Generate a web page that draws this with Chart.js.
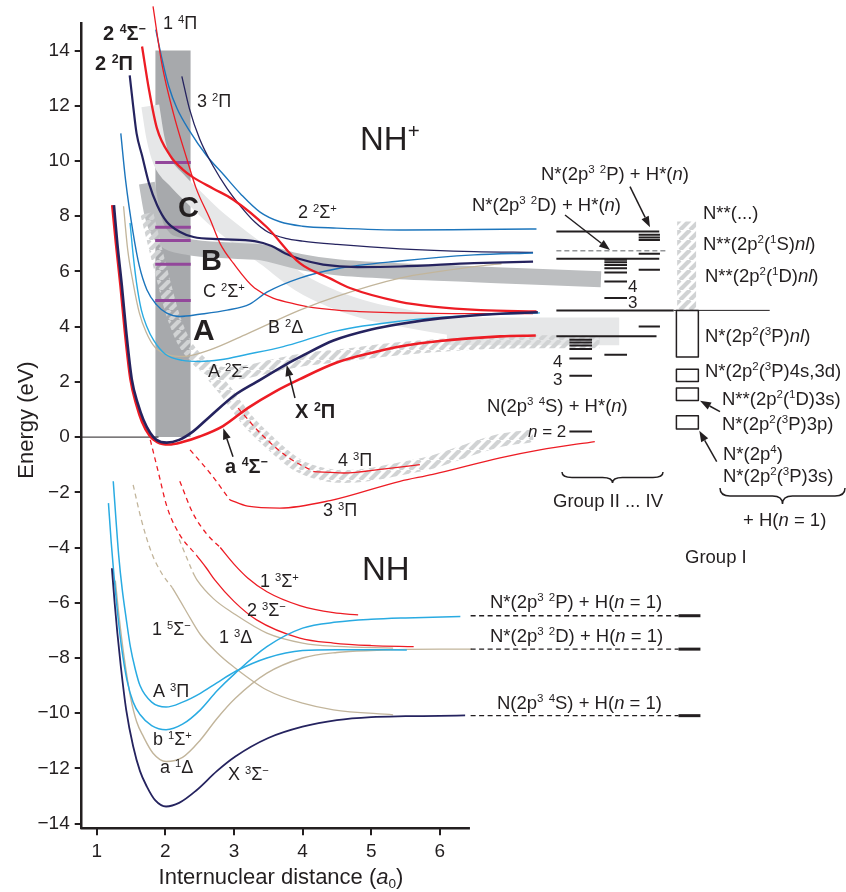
<!DOCTYPE html>
<html><head><meta charset="utf-8">
<script src="https://cdn.jsdelivr.net/npm/chart.js@4.4.1/dist/chart.umd.min.js"></script>
<style>html,body{margin:0;padding:0;background:#fff}canvas{display:block}</style>
</head><body>
<canvas id="c" width="846" height="892"></canvas>
<script>
// ---------------- DATA (energy in eV vs internuclear distance in a0) ----------------
const xTicks = [1, 2, 3, 4, 5, 6];
const yTicks = [-14, -12, -10, -8, -6, -4, -2, 0, 2, 4, 6, 8, 10, 12, 14];

// NH+ potential curves
const X2Pi   = [[1.25,8.4],[1.30,7.0],[1.365,5.5],[1.43,3.8],[1.51,2.1],[1.6,1.2],[1.68,0.63],[1.78,0.15],[1.87,-0.1],[2.02,-0.2],[2.2,-0.1],[2.4,0.2],[2.65,0.75],[3.0,1.5],[3.33,2.0],[3.75,2.62],[4.0,2.95],[4.45,3.5],[5.0,3.9],[5.42,4.1],[6.0,4.3],[6.88,4.47],[7.43,4.52]];
const a4SigM = [[1.225,8.4],[1.28,7.0],[1.345,5.5],[1.41,3.8],[1.49,2.1],[1.58,1.15],[1.66,0.55],[1.77,0.05],[1.88,-0.18],[2.05,-0.27],[2.25,-0.18],[2.5,0.02],[2.84,0.4],[3.2,1.05],[3.6,1.65],[3.96,2.1],[4.5,2.7],[5.0,3.05],[5.42,3.28],[6.0,3.48],[6.88,3.65],[7.4,3.68]];
const s2_4SigM = [[1.66,14.15],[1.76,12.6],[1.875,11.2],[2.07,10.2],[2.25,9.7],[2.41,9.4],[2.7,9.0],[2.99,8.6],[3.48,7.6],[3.96,6.3],[4.4,5.75],[4.69,5.4],[5.42,4.9],[5.9,4.73],[6.6,4.6],[7.41,4.55]];
const s1_4Pi = [[1.82,15.6],[1.95,13.5],[2.12,11.7],[2.31,10.1],[2.45,9.0],[2.65,7.9],[2.8,7.0],[2.99,6.3],[3.3,5.4],[3.96,4.78],[4.5,4.6],[5.42,4.5],[6.5,4.47],[7.36,4.47]];
const s2_2Pi = [[1.48,13.1],[1.53,12.0],[1.58,11.0],[1.66,10.2],[1.76,9.2],[1.88,8.4],[2.02,7.8],[2.2,7.45],[2.41,7.25],[2.8,7.17],[3.3,7.1],[3.55,6.92],[3.75,6.65],[3.96,6.45],[4.3,6.25],[4.8,6.16],[5.42,6.18],[6.5,6.3],[7.36,6.36]];
const s3_2Pi = [[2.24,13.07],[2.35,11.9],[2.5,10.8],[2.7,9.8],[2.9,9.0],[3.1,8.35],[3.3,7.8],[3.5,7.42],[3.75,7.2],[4.0,7.1],[4.5,6.98],[5.42,6.82],[6.5,6.72],[7.36,6.69]];
const s2_2SigP = [[1.86,14.76],[1.95,13.7],[2.05,12.7],[2.17,11.9],[2.35,11.1],[2.6,10.2],[2.85,9.5],[3.1,8.8],[3.38,8.15],[3.67,7.8],[4.0,7.64],[4.5,7.57],[5.5,7.5],[6.5,7.52],[7.41,7.54]];
const C2SigP = [[1.35,11.0],[1.42,9.3],[1.53,7.39],[1.62,6.2],[1.73,5.34],[1.87,4.8],[2.02,4.49],[2.21,4.37],[2.5,4.45],[2.9,4.6],[3.23,4.82],[3.48,5.25],[3.96,5.76],[4.5,6.1],[5.42,6.38],[6.5,6.6],[7.36,6.67]];
const B2Delta = [[1.39,8.36],[1.45,6.8],[1.53,5.58],[1.62,4.5],[1.72,3.8],[1.85,3.25],[2.05,2.98],[2.26,2.92],[2.65,3.16],[3.2,3.75],[3.96,4.6],[4.5,5.1],[5.42,5.76],[6.0,6.0],[6.6,6.2],[6.9,6.28]];
const A2SigM = [[1.485,7.76],[1.53,6.6],[1.58,5.58],[1.65,4.6],[1.73,4.0],[1.83,3.5],[2.0,3.0],[2.25,2.78],[2.5,2.74],[2.8,2.8],[3.2,3.0],[3.72,3.28],[3.96,3.45],[4.5,3.85],[5.42,4.2],[6.5,4.42],[7.46,4.5]];
const s4_3Pi_dash = [[3.06,1.05],[3.4,0.1],[3.8,-0.75],[4.16,-1.25]];
const s4_3Pi = [[4.16,-1.25],[4.6,-1.3],[5.2,-1.15],[5.71,-1.0]];
const s3_3Pi_dash = [[2.36,-0.46],[2.65,-1.3],[2.94,-2.27]];
const s3_3Pi = [[2.94,-2.27],[3.2,-2.5],[3.67,-2.57],[4.4,-2.3],[5.42,-1.6],[5.9,-1.35],[6.88,-0.75],[7.46,-0.46],[8.26,-0.16]];

// NH potential curves
const s1_3SigP_dash = [[2.21,-1.6],[2.4,-2.75],[2.6,-3.5],[2.8,-4.0]];
const s1_3SigP = [[2.8,-4.0],[3.0,-4.6],[3.2,-5.1],[3.48,-5.6],[3.96,-6.1],[4.45,-6.36],[4.81,-6.44]];
const s2_3SigM_dash = [[1.78,-0.1],[1.9,-1.3],[2.02,-2.5],[2.2,-3.5],[2.46,-4.3]];
const s2_3SigM = [[2.46,-4.3],[2.6,-4.75],[2.72,-5.17],[3.0,-5.95],[3.33,-6.62],[3.96,-7.28],[4.45,-7.46],[5.0,-7.55],[5.62,-7.59]];
const s1_5SigM_dash = [[1.53,-1.73],[1.65,-3.0],[1.8,-4.2],[1.95,-4.95],[2.1,-5.45]];
const s1_5SigM = [[2.1,-5.45],[2.22,-5.95],[2.36,-6.55],[2.51,-7.15],[2.75,-7.8],[2.99,-8.31],[3.48,-9.16],[4.0,-9.64],[4.45,-9.88],[5.32,-10.06]];
const s1_3Delta_dash = [[2.2,-3.7],[2.3,-4.3],[2.4,-4.9]];
const s1_3Delta = [[2.4,-4.9],[2.46,-5.17],[2.7,-5.85],[2.99,-6.38],[3.48,-7.1],[4.0,-7.46],[4.5,-7.58],[5.32,-7.64]];
const A3Pi = [[1.24,-1.6],[1.28,-3.0],[1.32,-4.3],[1.37,-5.5],[1.43,-6.6],[1.49,-7.6],[1.56,-8.4],[1.63,-9.0],[1.8,-9.6],[2.01,-9.78],[2.25,-9.6],[2.51,-9.28],[2.75,-8.9],[3.02,-8.49],[3.48,-8.0],[4.0,-7.73],[4.5,-7.7],[5.52,-7.71]];
const b1SigP = [[1.17,-2.39],[1.21,-3.8],[1.25,-5.0],[1.3,-6.3],[1.36,-7.6],[1.44,-8.8],[1.53,-9.6],[1.63,-10.05],[1.8,-10.45],[2.01,-10.6],[2.25,-10.4],[2.51,-9.88],[2.75,-9.2],[3.02,-8.55],[3.48,-7.59],[4.0,-6.92],[4.5,-6.7],[5.0,-6.6],[5.5,-6.55],[6.3,-6.5]];
const a1Delta = [[1.27,-5.2],[1.32,-6.4],[1.4,-8.0],[1.49,-9.4],[1.58,-10.3],[1.68,-10.85],[1.82,-11.45],[2.01,-11.75],[2.25,-11.6],[2.51,-10.97],[2.75,-10.2],[3.02,-9.46],[3.48,-8.55],[4.0,-8.0],[4.5,-7.8],[5.0,-7.73],[6.0,-7.68],[6.47,-7.68]];
const X3SigM = [[1.22,-4.75],[1.26,-6.0],[1.3,-7.1],[1.35,-8.3],[1.43,-9.9],[1.53,-11.2],[1.63,-12.1],[1.73,-12.66],[1.85,-13.15],[2.01,-13.38],[2.2,-13.25],[2.45,-12.8],[2.75,-12.1],[3.02,-11.57],[3.5,-10.9],[4.0,-10.49],[4.5,-10.25],[5.0,-10.14],[5.5,-10.11],[6.0,-10.1],[6.37,-10.08]];

// Franck-Condon region and bands
const fcRegion = {x0: 1.852, x1: 2.37, top: 14.0};
const fcLevels = [9.95, 7.6, 7.12, 6.26, 4.95];
const bandC = [[1.78,12.0],[1.85,10.9],[1.95,10.0],[2.17,9.3],[2.45,8.6],[2.7,8.0],[3.1,7.2],[3.48,6.5],[3.96,5.6],[4.45,5.0],[5.0,4.55],[5.5,4.3],[6.2,4.0],[6.5,3.9]];
const bandCflat = {x0: 6.1, x1: 8.62, y0: 3.33, y1: 4.33};
const bandB = [[1.73,9.2],[1.8,8.2],[1.87,7.6],[2.0,7.15],[2.31,6.9],[3.0,6.75],[3.38,6.7],[3.96,6.35],[4.5,6.15],[5.5,6.0],[6.5,5.9],[7.5,5.8],[8.35,5.72]];
const bandA = [[1.73,8.1],[1.87,6.67],[1.97,5.7],[2.1,4.5],[2.26,3.5],[2.45,2.85],[2.65,2.45],[2.9,2.3],[3.14,2.35],[3.6,2.6],[4.0,2.8],[4.55,2.95],[5.4,3.2],[6.5,3.4],[7.5,3.45],[8.33,3.45]];
const band43Pi = [[2.7,2.2],[2.9,1.6],[3.19,0.63],[3.48,-0.1],[3.92,-1.0],[4.3,-1.35],[4.6,-1.43],[5.0,-1.35],[5.42,-1.15],[5.9,-0.9],[6.5,-0.4],[6.88,-0.12],[7.36,0.05]];

// Dissociation limits (energy levels): [y, x0, x1]
const limitsLong = [[7.45,7.70,9.20],[6.46,7.70,9.20],[4.59,7.70,9.41],[3.65,7.70,9.16]];
const limitThin = [[4.59,9.41,10.81]];
const limitDashed = [[6.75,7.70,9.33]];
const rydberg2P = [7.33,7.23,7.14,6.64,6.06,4.01];   // x 8.90-9.21
const rydberg2D = [6.42,6.33,6.23,6.12,5.96,5.64,5.04,2.98]; // x 8.40-8.73
const rydberg4S = [3.53,3.43,3.32,3.19,2.85,2.22,0.20]; // x 7.89-8.22
const groupIBoxes = [[2.90,4.59],[2.01,2.46],[1.33,1.78],[0.29,0.77]]; // y ranges, x 9.45-9.77
const groupIHatch = {x0: 9.46, x1: 9.74, y0: 4.59, y1: 7.81};
const nhLimits = [-6.47, -7.68, -10.09];

// ---------------- CHART ----------------
const FONT = '"Liberation Sans", Arial, Helvetica, sans-serif';
const INK = '#231f20';
const NAVY = '#25235f', RED = '#ed1c24', MBLUE = '#1c75bc', LBLUE = '#29abe2', TAN = '#c2b59b', PURPLE = '#93479b';
Chart.defaults.font.family = FONT;

const canvas = document.getElementById('c');
const ctx0 = canvas.getContext('2d');
function makeHatch(color, lw, tile) {
  const c = document.createElement('canvas'); c.width = c.height = tile;
  const g = c.getContext('2d'); g.strokeStyle = color; g.lineWidth = lw; g.beginPath();
  for (let k = -tile; k <= 2 * tile; k += tile) { g.moveTo(k, tile); g.lineTo(k + tile, 0); }
  g.stroke(); return ctx0.createPattern(c, 'repeat');
}
const hatch = makeHatch('#d1d3d4', 4.2, 10);

const P = a => a.map(([x, y]) => ({x, y}));
const ds = [];
function add(data, color, width, extra) {
  ds.push(Object.assign({data: P(data), borderColor: color, borderWidth: width, showLine: true,
    pointRadius: 0, pointHoverRadius: 0, fill: false, cubicInterpolationMode: 'monotone', clip: false,
    borderJoinStyle: 'round'}, extra || {}));
}
function segs(ys, x0, x1) { const out = []; ys.forEach(y => { out.push([x0, y], [x1, y], [(x0 + x1) / 2, null]); }); return out; }
function rect(x0, x1, y0, y1) { return [[x0, y0], [x1, y0], [x1, y1], [x0, y1], [x0, y0]]; }
const flat = {tension: 0, cubicInterpolationMode: 'default'};

// background elements
add([[fcRegion.x0, fcRegion.top], [fcRegion.x1, fcRegion.top]], 'rgba(0,0,0,0)', 0, Object.assign({fill: {value: 0}, backgroundColor: '#a7a9ac'}, flat));
add([[bandCflat.x0, bandCflat.y1], [bandCflat.x1, bandCflat.y1]], 'rgba(0,0,0,0)', 0, Object.assign({fill: {value: bandCflat.y0}, backgroundColor: '#e6e7e8'}, flat));
add(bandC, '#e6e7e8', 18);
add(bandB, '#bcbec0', 16);
add(bandA, hatch, 13);
add(band43Pi, hatch, 13);
add(segs(fcLevels, fcRegion.x0, fcRegion.x1), PURPLE, 3, flat);
add([[0.78, 0], [1.9, 0]], INK, 1, flat);
add([[groupIHatch.x0, groupIHatch.y1], [groupIHatch.x1, groupIHatch.y1]], 'rgba(0,0,0,0)', 0, Object.assign({fill: {value: groupIHatch.y0}, backgroundColor: hatch}, flat));

// NH+ curves
add(s2_2SigP, MBLUE, 1.4);
add(s3_2Pi, NAVY, 1.3);
add(s1_4Pi, RED, 1.3);
add(B2Delta, TAN, 1.3);
add(C2SigP, MBLUE, 1.4);
add(A2SigM, LBLUE, 1.4);
add(s2_2Pi, NAVY, 2.2);
add(s2_4SigM, RED, 2.3);
add(s4_3Pi_dash, RED, 1.3, {borderDash: [5, 4]});
add(s4_3Pi, RED, 1.3);
add(s3_3Pi_dash, RED, 1.3, {borderDash: [5, 4]});
add(s3_3Pi, RED, 1.3);
add(a4SigM, RED, 2.6);
add(X2Pi, NAVY, 2.6);
// NH curves
add(s1_3SigP_dash, RED, 1.3, {borderDash: [5, 4]});
add(s1_3SigP, RED, 1.3);
add(s2_3SigM_dash, RED, 1.3, {borderDash: [5, 4]});
add(s2_3SigM, RED, 1.3);
add(s1_5SigM_dash, TAN, 1.3, {borderDash: [5, 4]});
add(s1_5SigM, TAN, 1.3);
add(s1_3Delta_dash, TAN, 1.3, {borderDash: [5, 4]});
add(s1_3Delta, TAN, 1.3);
add(a1Delta, TAN, 1.4);
add(A3Pi, LBLUE, 1.5);
add(b1SigP, LBLUE, 1.5);
add(X3SigM, NAVY, 1.8);

// levels
limitsLong.forEach(([y, a, b]) => add([[a, y], [b, y]], INK, 2, flat));
limitThin.forEach(([y, a, b]) => add([[a, y], [b, y]], INK, 1, flat));
limitDashed.forEach(([y, a, b]) => add([[a, y], [b, y]], '#939598', 1.3, Object.assign({borderDash: [5, 3]}, flat)));
add(segs(rydberg2P, 8.90, 9.21), INK, 2, flat);
add(segs(rydberg2D, 8.40, 8.73), INK, 2, flat);
add(segs(rydberg4S, 7.89, 8.22), INK, 2, flat);
groupIBoxes.forEach(([y0, y1]) => add(rect(9.45, 9.77, y0, y1), INK, 1.5, flat));
nhLimits.forEach(y => {
  add([[6.45, y], [9.48, y]], INK, 1.4, Object.assign({borderDash: [5, 3.5]}, flat));
  add([[9.48, y], [9.8, y]], INK, 3, flat);
});
ds.forEach((d, i) => d.order = ds.length - i);

// ---------------- TEXT / ANNOTATIONS ----------------
function parse(s) {
  const out = []; let buf = '', i = 0;
  while (i < s.length) {
    const c = s[i];
    if ((c === '^' || c === '_' || c === '~') && s[i + 1] === '{') {
      if (buf) out.push({t: buf, m: ''}); buf = '';
      const j = s.indexOf('}', i); out.push({t: s.slice(i + 2, j), m: c}); i = j + 1;
    } else { buf += c; i++; }
  }
  if (buf) out.push({t: buf, m: ''});
  return out;
}
function fontFor(m, size, bold) {
  const sz = (m === '^' || m === '_') ? size * 0.62 : size;
  return (m === '~' ? 'italic ' : '') + (bold ? 'bold ' : '') + sz.toFixed(1) + 'px ' + FONT;
}
function richWidth(ctx, s, size, bold) {
  let w = 0; parse(s).forEach(p => { ctx.font = fontFor(p.m, size, bold); w += ctx.measureText(p.t).width; }); return w;
}
function drawRich(ctx, s, x, y, size, bold) {
  ctx.textBaseline = 'alphabetic'; ctx.textAlign = 'left'; ctx.fillStyle = INK;
  parse(s).forEach(p => {
    ctx.font = fontFor(p.m, size, bold);
    const dy = p.m === '^' ? -size * 0.36 : (p.m === '_' ? size * 0.2 : 0);
    ctx.fillText(p.t, x, y + dy);
    x += ctx.measureText(p.t).width;
  });
}
const labels = [
  ['2 ^{4}Σ^{−}', 103, 40, 20, true], ['2 ^{2}Π', 95, 70, 20, true],
  ['1 ^{4}Π', 163, 29, 18], ['3 ^{2}Π', 197, 107, 18],
  ['NH^{+}', 360, 150, 33],
  ['C', 178, 217, 29, true], ['B', 201, 270, 29, true], ['A', 193, 340, 30, true],
  ['2 ^{2}Σ^{+}', 298, 218, 18], ['C ^{2}Σ^{+}', 203, 297, 18], ['B ^{2}Δ', 268, 333, 18], ['A ^{2}Σ^{−}', 208, 377, 18],
  ['X ^{2}Π', 295, 418, 20, true], ['a ^{4}Σ^{−}', 225, 473, 20, true],
  ['4 ^{3}Π', 338, 466, 18], ['3 ^{3}Π', 323, 516, 18],
  ['NH', 362, 580, 33],
  ['1 ^{3}Σ^{+}', 260, 587, 18], ['2 ^{3}Σ^{−}', 247, 616, 18], ['1 ^{5}Σ^{−}', 152, 635, 18], ['1 ^{3}Δ', 219, 643, 18],
  ['A ^{3}Π', 153, 697, 18], ['b ^{1}Σ^{+}', 153, 745, 18], ['a ^{1}Δ', 160, 773, 18], ['X ^{3}Σ^{−}', 228, 780, 18],
  ['N*(2p^{3} ^{2}P) + H*(~{n})', 541, 180, 18.5], ['N*(2p^{3} ^{2}D) + H*(~{n})', 472, 211, 18.5],
  ['N**(...)', 703, 219, 18.5], ['N**(2p^{2}(^{1}S)~{nl})', 703, 250, 18.5], ['N**(2p^{2}(^{1}D)~{nl})', 705, 282, 18.5],
  ['4', 628, 292, 17], ['3', 628, 308, 17],
  ['N*(2p^{2}(^{3}P)~{nl})', 705, 342, 18.5], ['N*(2p^{2}(^{3}P)4s,3d)', 705, 377, 18.5],
  ['N**(2p^{2}(^{1}D)3s)', 722, 405, 18.5], ['N*(2p^{2}(^{3}P)3p)', 722, 430, 18.5],
  ['N*(2p^{4})', 723, 460, 18.5], ['N*(2p^{2}(^{3}P)3s)', 723, 482, 18.5],
  ['+ H(~{n} = 1)', 743, 526, 18.5], ['Group I', 685, 563, 18.5],
  ['N(2p^{3} ^{4}S) + H*(~{n})', 487, 412, 18.5], ['~{n} = 2', 528, 437, 17],
  ['4', 553, 367, 17], ['3', 553, 385, 17],
  ['Group II ... IV', 553, 507, 18.5],
  ['N*(2p^{3} ^{2}P) + H(~{n} = 1)', 490, 608, 18.5], ['N*(2p^{3} ^{2}D) + H(~{n} = 1)', 490, 642, 18.5],
  ['N(2p^{3} ^{4}S) + H(~{n} = 1)', 497, 709, 18.5]
];
const arrows = [[295, 398, 286.7, 365], [233, 456.7, 223.3, 428.3], [630, 186.7, 650, 227.3], [565, 215, 610, 250], [716.7, 461.7, 699.3, 430.7], [720, 411.7, 700, 400.7]];
const braces = [[562, 663, 472, 11], [720, 845, 488, 16]];

function arrow(ctx, x0, y0, x1, y1) {
  const a = Math.atan2(y1 - y0, x1 - x0), L = 11, W = 4;
  const bx = x1 - L * Math.cos(a), by = y1 - L * Math.sin(a);
  ctx.strokeStyle = INK; ctx.fillStyle = INK; ctx.lineWidth = 1.5;
  ctx.beginPath(); ctx.moveTo(x0, y0); ctx.lineTo(bx, by); ctx.stroke();
  ctx.beginPath(); ctx.moveTo(x1, y1);
  ctx.lineTo(bx + W * Math.sin(a), by - W * Math.cos(a)); ctx.lineTo(bx - W * Math.sin(a), by + W * Math.cos(a));
  ctx.closePath(); ctx.fill();
}
function brace(ctx, x1, x2, y0, h) {
  const xm = (x1 + x2) / 2, ym = y0 + h / 2, r = Math.min(10, (x2 - x1) / 6);
  ctx.strokeStyle = INK; ctx.lineWidth = 1.5; ctx.beginPath();
  ctx.moveTo(x1, y0); ctx.quadraticCurveTo(x1, ym, x1 + r, ym); ctx.lineTo(xm - r, ym);
  ctx.quadraticCurveTo(xm, ym, xm, y0 + h); ctx.quadraticCurveTo(xm, ym, xm + r, ym);
  ctx.lineTo(x2 - r, ym); ctx.quadraticCurveTo(x2, ym, x2, y0); ctx.stroke();
}

const deco = {
  id: 'deco',
  afterDraw(chart) {
    const ctx = chart.ctx, xs = chart.scales.x, ca = chart.chartArea;
    ctx.save();
    ctx.strokeStyle = INK; ctx.lineWidth = 2.5; ctx.beginPath();
    ctx.moveTo(ca.left - 1.2, ca.bottom); ctx.lineTo(xs.getPixelForValue(6.44), ca.bottom); ctx.stroke();
    labels.forEach(l => drawRich(ctx, l[0], l[1], l[2], l[3], !!l[4]));
    arrows.forEach(a => arrow(ctx, a[0], a[1], a[2], a[3]));
    braces.forEach(b => brace(ctx, b[0], b[1], b[2], b[3]));
    const t = 'Internuclear distance (~{a}_{0})';
    const w = richWidth(ctx, t, 22, false);
    drawRich(ctx, t, 281 - w / 2, 884, 22, false);
    ctx.translate(33, 420); ctx.rotate(-Math.PI / 2);
    const t2 = 'Energy (eV)'; const w2 = richWidth(ctx, t2, 22, false);
    drawRich(ctx, t2, -w2 / 2, 0, 22, false);
    ctx.restore();
  }
};

new Chart(canvas, {
  type: 'scatter',
  data: {datasets: ds},
  options: {
    responsive: false, animation: false, events: [],
    layout: {padding: {top: 23, right: 6, left: 0, bottom: 0}},
    plugins: {legend: {display: false}, tooltip: {enabled: false}},
    scales: {
      x: {
        type: 'linear', min: 0.78, max: 11.835,
        afterBuildTicks: s => { s.ticks = xTicks.map(v => ({value: v})); },
        afterFit: s => { s.height = 63.7; },
        ticks: {font: {size: 19}, color: INK, padding: 5, maxRotation: 0, autoSkip: false},
        grid: {drawOnChartArea: false, drawTicks: true, tickLength: 7, color: INK, lineWidth: 2},
        border: {display: false}
      },
      y: {
        type: 'linear', min: -14.17, max: 15.0,
        afterBuildTicks: s => { s.ticks = yTicks.map(v => ({value: v})); },
        afterFit: s => { s.width = 81.7; },
        ticks: {font: {size: 19}, color: INK, padding: 5, autoSkip: false,
          callback: v => v < 0 ? '\u2212' + Math.abs(v) : String(v)},
        grid: {drawOnChartArea: false, drawTicks: true, tickLength: 7, color: INK, lineWidth: 2},
        border: {display: true, color: INK, width: 2.5}
      }
    }
  },
  plugins: [deco]
});
</script>
</body></html>
